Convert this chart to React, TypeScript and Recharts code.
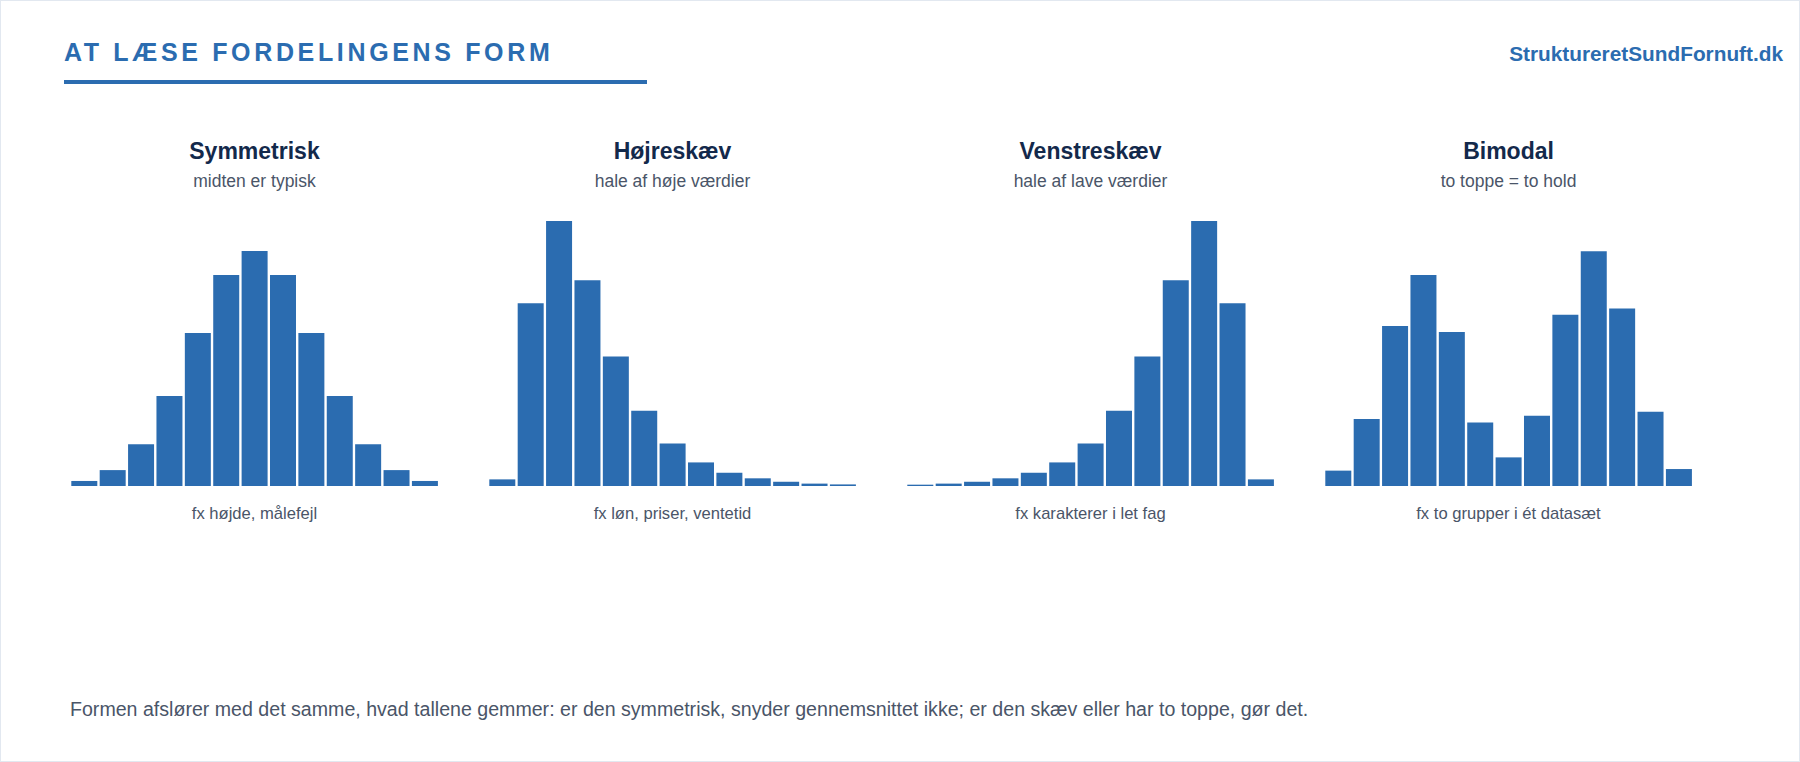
import React from "react";
import { BarChart, Bar, XAxis, YAxis } from "recharts";

// 13 bins per histogram, heights on a shared 0–100 scale
const BINS = ["1", "2", "3", "4", "5", "6", "7", "8", "9", "10", "11", "12", "13"];
const SYMMETRIC = [1.9, 6, 15.8, 34, 57.7, 79.6, 88.7, 79.6, 57.7, 34, 15.8, 6, 1.9];
const RIGHT_SKEW = [2.5, 69, 100, 77.6, 48.9, 28.4, 16, 8.9, 5, 2.9, 1.6, 0.9, 0.6];
const LEFT_SKEW = [0.5, 0.9, 1.6, 2.9, 5, 8.9, 16, 28.4, 48.9, 77.6, 100, 69, 2.5];
const BIMODAL = [5.8, 25.3, 60.4, 79.6, 58.1, 24, 10.8, 26.5, 64.6, 88.6, 67, 28, 6.4];

const TITLES = ["Symmetrisk", "Højreskæv", "Venstreskæv", "Bimodal"];
const SUBTITLES = ["midten er typisk", "hale af høje værdier", "hale af lave værdier", "to toppe = to hold"];
const CAPTIONS = ["fx højde, målefejl", "fx løn, priser, ventetid", "fx karakterer i let fag", "fx to grupper i ét datasæt"];
const SERIES = [SYMMETRIC, RIGHT_SKEW, LEFT_SKEW, BIMODAL];

const FONT = '"Liberation Sans", Arial, Helvetica, sans-serif';
const BLUE = "#2b6cb0";
const NAVY = "#13294b";
const GREY = "#4a5568";

const PANEL_LEFT = 69;
const PANEL_STEP = 418;
const PANEL_W = 369;
const PLOT_TOP = 220;
const PLOT_H = 265;

function Histogram({ values }: { values: number[] }) {
  const data = BINS.map((bin, i) => ({ bin, value: values[i] }));
  return (
    <BarChart
      width={PANEL_W}
      height={PLOT_H + 3}
      data={data}
      margin={{ top: 0, right: 0, bottom: 3, left: 0 }}
      barCategoryGap={1.3}
    >
      <XAxis
        dataKey="bin"
        tick={false}
        tickLine={false}
        height={0}
        axisLine={{ stroke: GREY, strokeWidth: 2.5 }}
      />
      <YAxis hide domain={[0, 100]} />
      <Bar dataKey="value" fill={BLUE} isAnimationActive={false} />
    </BarChart>
  );
}

function textStyle(size: number, top: number, extra: React.CSSProperties = {}): React.CSSProperties {
  return {
    position: "absolute",
    top,
    fontSize: size,
    lineHeight: `${size}px`,
    fontFamily: FONT,
    whiteSpace: "nowrap",
    ...extra,
  };
}

export default function App() {
  return (
    <div
      style={{
        position: "absolute",
        left: 0,
        top: 0,
        width: 1800,
        height: 762,
        boxSizing: "border-box",
        border: "1px solid #e2e8f0",
        background: "#ffffff",
        overflow: "hidden",
      }}
    >
      <div
        style={textStyle(25, 38.5, {
          left: 63,
          fontWeight: 700,
          color: BLUE,
          letterSpacing: 3.65,
        })}
      >
        AT LÆSE FORDELINGENS FORM
      </div>
      <div
        style={{
          position: "absolute",
          left: 63,
          top: 78.5,
          width: 583,
          height: 4,
          background: BLUE,
        }}
      />
      <div style={textStyle(20.8, 43, { right: 16, fontWeight: 700, color: BLUE })}>
        StruktureretSundFornuft.dk
      </div>

      {SERIES.map((values, i) => {
        const left = PANEL_LEFT + i * PANEL_STEP;
        const center: React.CSSProperties = { left, width: PANEL_W, textAlign: "center" };
        return (
          <React.Fragment key={TITLES[i]}>
            <div style={textStyle(23, 139, { ...center, fontWeight: 700, color: NAVY })}>
              {TITLES[i]}
            </div>
            <div style={textStyle(17.5, 171.9, { ...center, color: GREY })}>{SUBTITLES[i]}</div>
            <div style={{ position: "absolute", left, top: PLOT_TOP }}>
              <Histogram values={values} />
            </div>
            <div style={textStyle(16.6, 505.2, { ...center, color: GREY })}>{CAPTIONS[i]}</div>
          </React.Fragment>
        );
      })}

      <div style={textStyle(19.6, 698.5, { left: 69, color: GREY })}>
        Formen afslører med det samme, hvad tallene gemmer: er den symmetrisk, snyder gennemsnittet ikke; er den skæv eller har to toppe, gør det.
      </div>
    </div>
  );
}
